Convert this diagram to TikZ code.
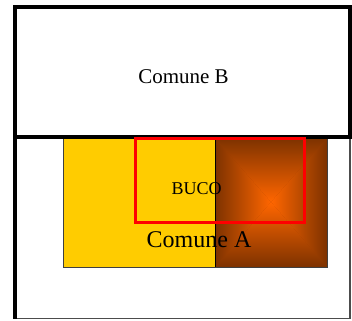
\documentclass[tikz,border=0pt]{standalone}
\usepackage{fontspec}
\setmainfont{Liberation Serif}
\usetikzlibrary{positioning}
\definecolor{comuneyellow}{RGB}{255,204,0}
\definecolor{bucoorange}{RGB}{255,102,0}
\definecolor{bucobrown}{RGB}{125,50,0}

\begin{document}
\begin{tikzpicture}[x=1pt, y=-1pt,
    frame/.style={draw=black, line width=3.4pt},
    area/.style={draw=black!75, line width=0.9pt},
    lbl/.style={anchor=base, inner sep=0pt}
]
\useasboundingbox (0,0) rectangle (352,320);
% lower frame
\draw[line width=1.2pt, draw=black!70] (15,137) rectangle (350,318.5);
\draw[line width=3.4pt] (15,137) -- (15,319);
% Comune A, yellow part and shaded part
\fill[comuneyellow] (63,138) rectangle (215,267);
\fill[bucobrown!80!bucoorange] (215,138) rectangle (327,267);
\shade[top color=bucobrown, bottom color=bucoorange] (215,138) -- (327,138) -- (271,202) -- cycle;
\shade[top color=bucoorange, bottom color=bucobrown] (215,267) -- (327,267) -- (271,202) -- cycle;
\shade[left color=bucobrown, right color=bucoorange] (215,138) -- (215,267) -- (271,202) -- cycle;
\shade[left color=bucoorange, right color=bucobrown] (327,138) -- (327,267) -- (271,202) -- cycle;
\draw[area] (63,138) rectangle (327,267);
\draw[line width=1pt] (215,138) -- (215,267);
% Comune B
\draw[frame] (15,7) rectangle (350,137);
\draw[line width=3.5pt] (13,137) -- (352,137);
% BUCO
\draw[red, line width=3pt] (135,138.5) rectangle (304,222);
\node[lbl, font=\fontsize{21}{24}\selectfont] (comuneB) at (183.5,84) {Comune B};
\node[lbl, font=\fontsize{18}{21}\selectfont] (buco) at (196.5,194) {BUCO};
\node[lbl, font=\fontsize{24}{28}\selectfont] (comuneA) at (199,247) {Comune A};
\end{tikzpicture}
\end{document}
